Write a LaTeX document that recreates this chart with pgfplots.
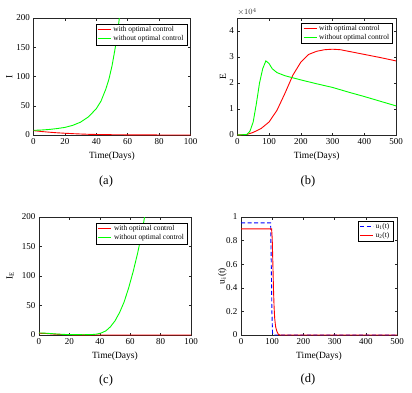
\documentclass[border=0pt]{standalone}
\usepackage{fontspec}
\setmainfont{Liberation Serif}
\usepackage{pgfplots}
\pgfplotsset{compat=1.18}

\definecolor{mred}{RGB}{255,0,0}
\definecolor{mgreen}{RGB}{0,255,0}
\definecolor{mblue}{RGB}{0,0,255}

\newcommand{\tickfont}{\fontsize{9}{10}\selectfont}
\newcommand{\labfont}{\fontsize{9.5}{11}\selectfont}
\newcommand{\legfont}{\fontsize{7.4}{8.5}\selectfont}

\pgfplotsset{
  panel/.style={
    scale only axis, anchor=south west,
    axis line style={black!85, line width=0.6pt},
    tick style={black!85, line width=0.5pt},
    major tick length=2.5pt,
    tick label style={font=\tickfont},
    /pgf/number format/assume math mode=true,
    label style={font=\labfont},
    xlabel={Time(Days)},
    every axis plot/.append style={line width=0.9pt},
    legend cell align=left,
    legend style={font=\legfont, draw=black, fill=white,
      inner xsep=1.5pt, inner ysep=0.5pt, row sep=-1.5pt, anchor=north east},
    legend image code/.code={\draw[line width=1.2pt] (0pt,0.3pt) -- (13pt,0.3pt);},
  },
}

\begin{document}
\begin{tikzpicture}
\path[use as bounding box] (0pt,0pt) rectangle (412pt,392pt);

% (a)
\begin{axis}[panel, at={(33.5pt,257pt)}, width=157pt, height=117pt,
  xmin=0, xmax=100, ymin=0, ymax=200,
  xtick={0,20,...,100}, ytick={0,50,...,200},
  ylabel={I}, ylabel style={at={(axis description cs:-0.155,0.5)}, anchor=center},
  legend style={at={(axis description cs:0.978,0.95)}}]
\addplot[mred] coordinates {(0,7.5)(5,6)(10,4.8)(15,3.8)(20,3)(25,2.3)(30,1.7)(35,1.2)(40,0.9)(50,0.5)(60,0.3)(70,0.15)(80,0.08)(100,0.02)};
\addlegendentry{with optimal control}
\addplot[mgreen] coordinates {(0,8)(5,8.5)(10,9.5)(15,11)(20,13)(25,16.5)(30,22)(35,31)(40,45)(43,58)(46,78)(48,95)(50,118)(52,148)(54,185)(55,207)};
\addlegendentry{without optimal control}
\end{axis}

% (b)
\begin{axis}[panel, name=pb, at={(237.3pt,257pt)}, width=158.7pt, height=117pt,
  xmin=0, xmax=500, ymin=0, ymax=4.5,
  xtick={0,100,...,500}, ytick={0,1,...,4},
  ylabel={E}, ylabel style={at={(axis description cs:-0.09,0.5)}, anchor=center},
  legend style={at={(axis description cs:0.98,0.96)}}]
\addplot[mred] coordinates {(0,0)(30,0.02)(50,0.1)(75,0.25)(100,0.5)(125,0.95)(150,1.6)(175,2.3)(200,2.8)(225,3.1)(250,3.22)(275,3.28)(300,3.3)(325,3.28)(350,3.22)(400,3.1)(450,2.98)(500,2.85)};
\addlegendentry{with optimal control}
\addplot[mgreen] coordinates {(0,0)(30,0.02)(40,0.15)(50,0.5)(60,1.2)(70,2.0)(80,2.55)(90,2.85)(100,2.75)(110,2.55)(125,2.4)(150,2.28)(175,2.2)(200,2.12)(250,1.97)(300,1.83)(350,1.65)(400,1.48)(450,1.3)(500,1.12)};
\addlegendentry{without optimal control}
\end{axis}
\node[anchor=south west, inner sep=0pt, font=\fontsize{8}{9}\selectfont, black!80]
  at ([yshift=2pt]pb.north west) {$\times 10^{4}$};

% (c)
\begin{axis}[panel, at={(39pt,57pt)}, width=152pt, height=118pt,
  xmin=0, xmax=100, ymin=0, ymax=200,
  xtick={0,20,...,100}, ytick={0,50,...,200},
  ylabel={I\textsubscript{E}}, ylabel style={at={(axis description cs:-0.19,0.5)}, anchor=center},
  legend style={at={(axis description cs:0.978,0.95)}}]
\addplot[mred] coordinates {(0,3)(5,2.5)(10,1.5)(15,0.8)(20,0.4)(30,0.1)(40,0)(100,0)};
\addlegendentry{with optimal control}
\addplot[mgreen] coordinates {(0,3.5)(5,3)(10,2)(15,1.2)(20,0.6)(30,0.5)(35,0.8)(38,1.5)(41,3.5)(44,7)(47,14)(50,24)(53,38)(56,56)(59,80)(62,108)(65,140)(67,165)(69,193)(70,208)};
\addlegendentry{without optimal control}
\end{axis}

% (d)
\begin{axis}[panel, at={(241pt,57pt)}, width=156pt, height=118pt,
  xmin=0, xmax=500, ymin=0, ymax=1,
  xtick={0,100,...,500}, ytick={0,0.2,...,1},
  yticklabels={0,0.2,0.4,0.6,0.8,1},
  ylabel={u\textsubscript{i}(t)}, ylabel style={at={(axis description cs:-0.12,0.5)}, anchor=center},
  legend style={at={(axis description cs:0.975,0.97)}}]
\addplot[mblue, dash pattern=on 4pt off 2.5pt] coordinates {(0,0.95)(95,0.95)(97,0.6)(99,0.2)(101,0.02)(103,0)(500,0)};
\addlegendentry{u\textsubscript{1}(t)}
\addplot[mred] coordinates {(0,0.9)(98,0.9)(100,0.82)(102,0.62)(104,0.4)(106,0.24)(108,0.14)(111,0.07)(115,0.03)(120,0.005)(125,0)(500,0)};
\addlegendentry{u\textsubscript{2}(t)}
\end{axis}

\node[font=\fontsize{12.5}{14}\selectfont] at (106pt,210.5pt) {(a)};
\node[font=\fontsize{12.5}{14}\selectfont] at (308pt,210.5pt) {(b)};
\node[font=\fontsize{12.5}{14}\selectfont] at (106pt,12pt) {(c)};
\node[font=\fontsize{12.5}{14}\selectfont] at (308pt,13pt) {(d)};
\end{tikzpicture}
\end{document}
